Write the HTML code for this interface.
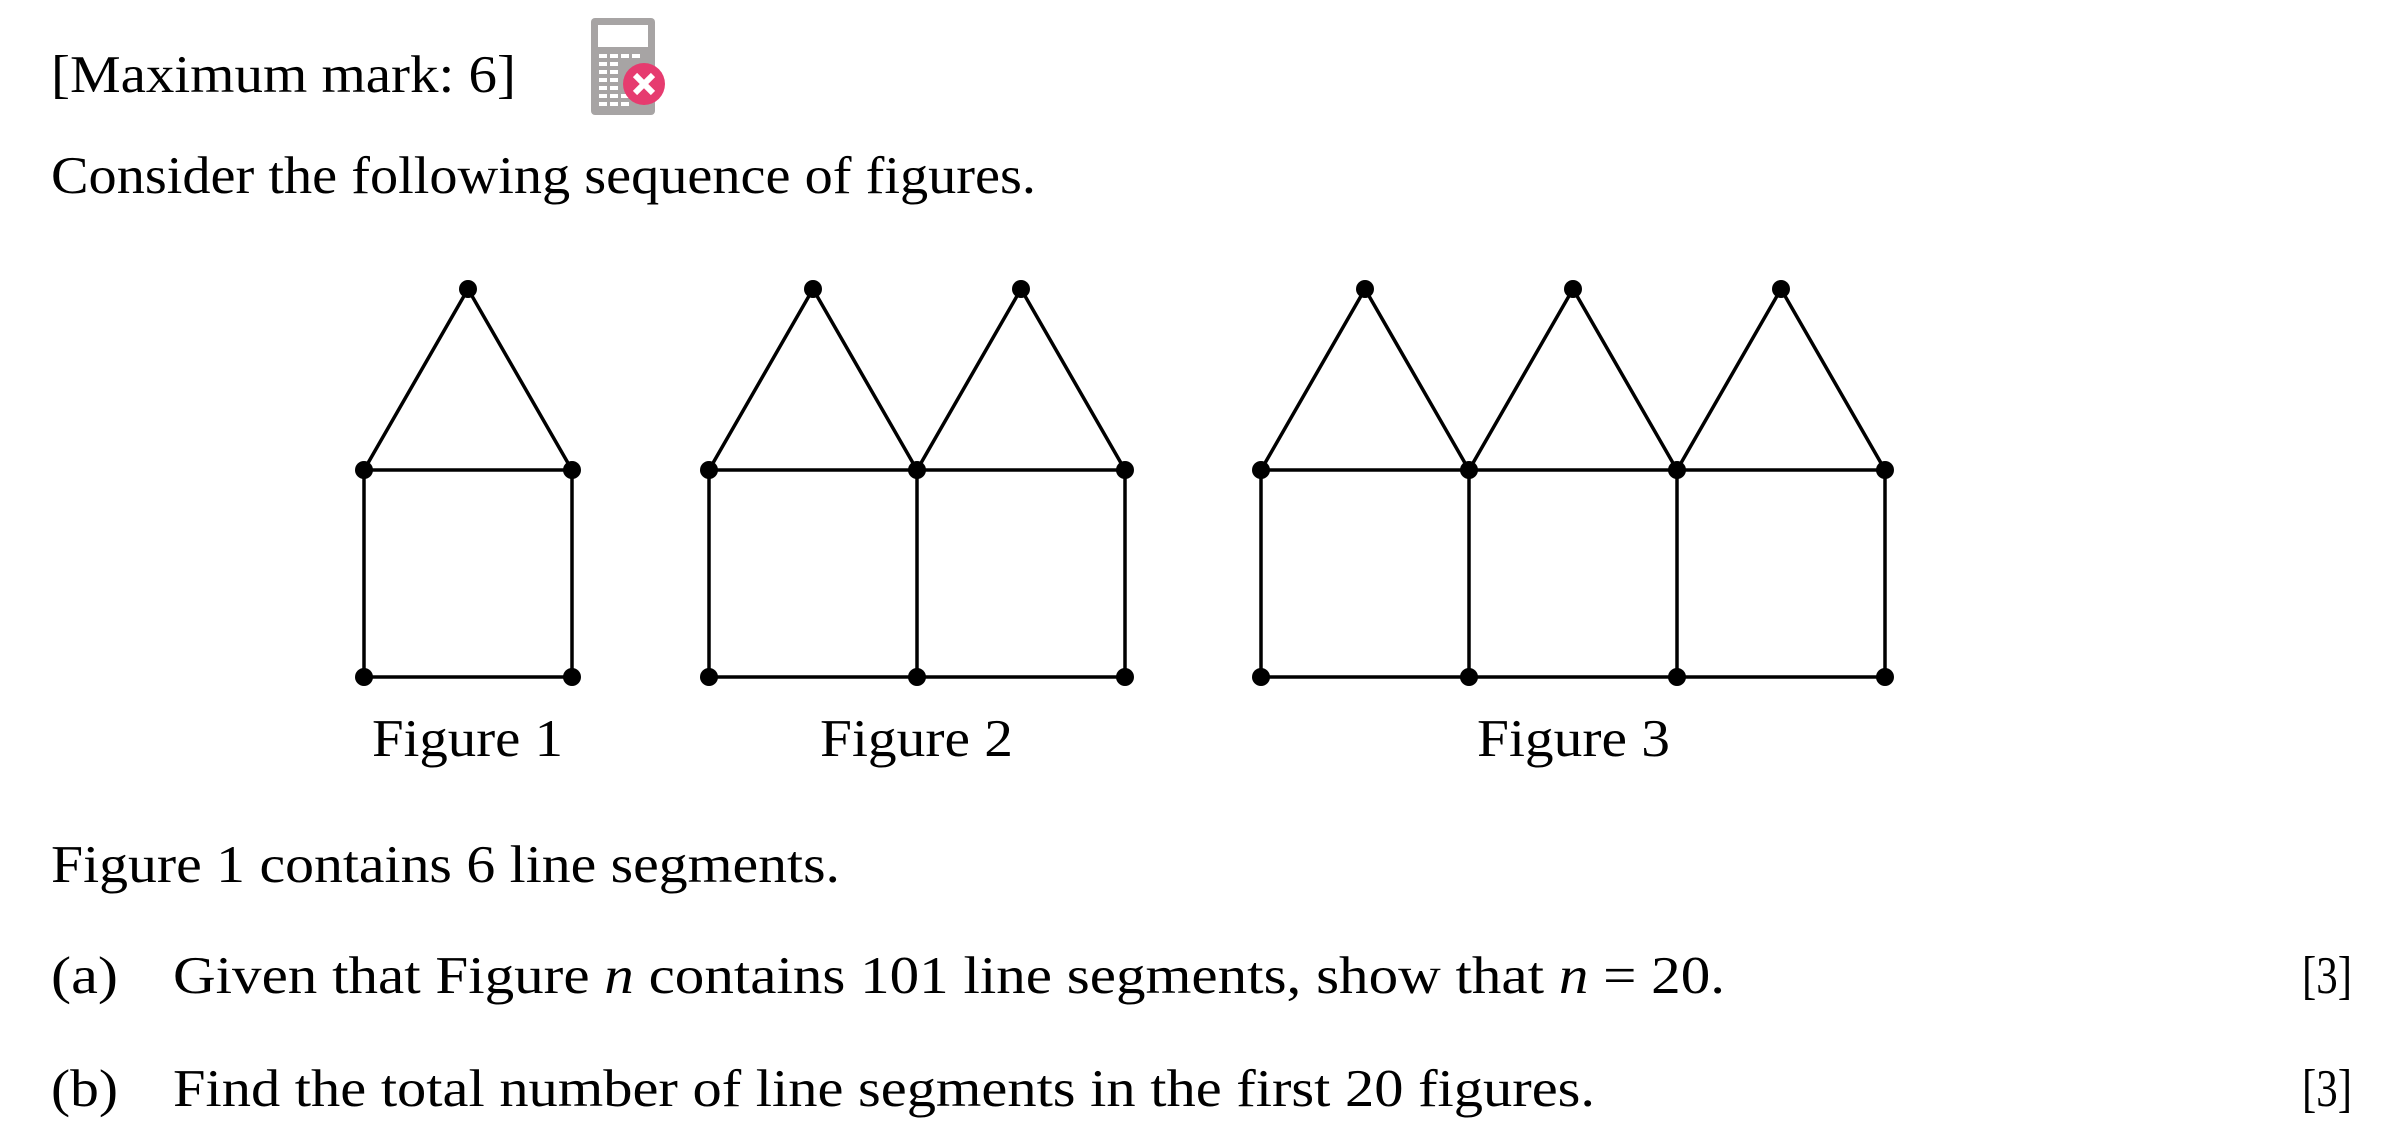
<!DOCTYPE html>
<html><head><meta charset="utf-8"><style>
html,body{margin:0;padding:0;background:#fff;}
svg{display:block;}
text{font-family:"Liberation Serif",serif;font-size:53px;fill:#000;}
</style></head><body>
<svg width="2400" height="1148" viewBox="0 0 2400 1148" xmlns="http://www.w3.org/2000/svg">
<text x="51" y="92" textLength="465" lengthAdjust="spacingAndGlyphs">[Maximum mark: 6]</text>
<rect x="591" y="18" width="64" height="97" rx="4" fill="#a7a4a4"/>
<rect x="598" y="25" width="50" height="22" fill="#fff"/>
<g fill="#fff">
<rect x="599" y="54" width="8" height="4"/><rect x="610" y="54" width="8" height="4"/><rect x="621" y="54" width="8" height="4"/><rect x="632" y="54" width="8" height="4"/>
<rect x="599" y="62" width="8" height="4"/><rect x="610" y="62" width="8" height="4"/>
<rect x="599" y="70" width="8" height="4"/><rect x="610" y="70" width="8" height="4"/>
<rect x="599" y="78" width="8" height="4"/><rect x="610" y="78" width="8" height="4"/>
<rect x="599" y="86" width="8" height="4"/><rect x="610" y="86" width="8" height="4"/>
<rect x="599" y="94" width="8" height="4"/><rect x="610" y="94" width="8" height="4"/><rect x="621" y="94" width="8" height="4"/>
<rect x="599" y="102" width="8" height="4"/><rect x="610" y="102" width="8" height="4"/><rect x="621" y="102" width="8" height="4"/>
</g>
<circle cx="644" cy="84" r="21" fill="#e63b6f"/>
<path d="M635 75 L653 93 M653 75 L635 93" stroke="#fff" stroke-width="6"/>
<text x="51" y="193" textLength="985" lengthAdjust="spacingAndGlyphs">Consider the following sequence of figures.</text>
<g stroke="#000" stroke-width="3.5" fill="none">
<path d="M364 470 L468 289 L572 470 Z M364 470 V677 H572 V470"/>
<path d="M709 470 L813 289 L917 470 L1021 289 L1125 470 H709 V677 H1125 V470 M917 470 V677"/>
<path d="M1261 470 L1365 289 L1469 470 L1573 289 L1677 470 L1781 289 L1885 470 H1261 V677 H1885 V470 M1469 470 V677 M1677 470 V677"/>
</g>
<g fill="#000">
<circle cx="468" cy="289" r="9"/><circle cx="364" cy="470" r="9"/><circle cx="572" cy="470" r="9"/><circle cx="364" cy="677" r="9"/><circle cx="572" cy="677" r="9"/>
<circle cx="813" cy="289" r="9"/><circle cx="1021" cy="289" r="9"/>
<circle cx="709" cy="470" r="9"/><circle cx="917" cy="470" r="9"/><circle cx="1125" cy="470" r="9"/>
<circle cx="709" cy="677" r="9"/><circle cx="917" cy="677" r="9"/><circle cx="1125" cy="677" r="9"/>
<circle cx="1365" cy="289" r="9"/><circle cx="1573" cy="289" r="9"/><circle cx="1781" cy="289" r="9"/>
<circle cx="1261" cy="470" r="9"/><circle cx="1469" cy="470" r="9"/><circle cx="1677" cy="470" r="9"/><circle cx="1885" cy="470" r="9"/>
<circle cx="1261" cy="677" r="9"/><circle cx="1469" cy="677" r="9"/><circle cx="1677" cy="677" r="9"/><circle cx="1885" cy="677" r="9"/>
</g>
<text x="372" y="756" textLength="191" lengthAdjust="spacingAndGlyphs">Figure 1</text>
<text x="820" y="756" textLength="193" lengthAdjust="spacingAndGlyphs">Figure 2</text>
<text x="1477" y="756" textLength="193" lengthAdjust="spacingAndGlyphs">Figure 3</text>
<text x="51" y="882" textLength="789" lengthAdjust="spacingAndGlyphs">Figure 1 contains 6 line segments.</text>
<text x="51" y="993" textLength="67" lengthAdjust="spacingAndGlyphs">(a)</text>
<text x="173" y="993" textLength="1552" lengthAdjust="spacingAndGlyphs">Given that Figure <tspan font-style="italic">n</tspan> contains 101 line segments, show that <tspan font-style="italic">n</tspan> = 20.</text>
<text x="2302" y="993" textLength="50" lengthAdjust="spacingAndGlyphs">[3]</text>
<text x="51" y="1106" textLength="67" lengthAdjust="spacingAndGlyphs">(b)</text>
<text x="173" y="1106" textLength="1422" lengthAdjust="spacingAndGlyphs">Find the total number of line segments in the first 20 figures.</text>
<text x="2302" y="1106" textLength="50" lengthAdjust="spacingAndGlyphs">[3]</text>
</svg>
</body></html>
